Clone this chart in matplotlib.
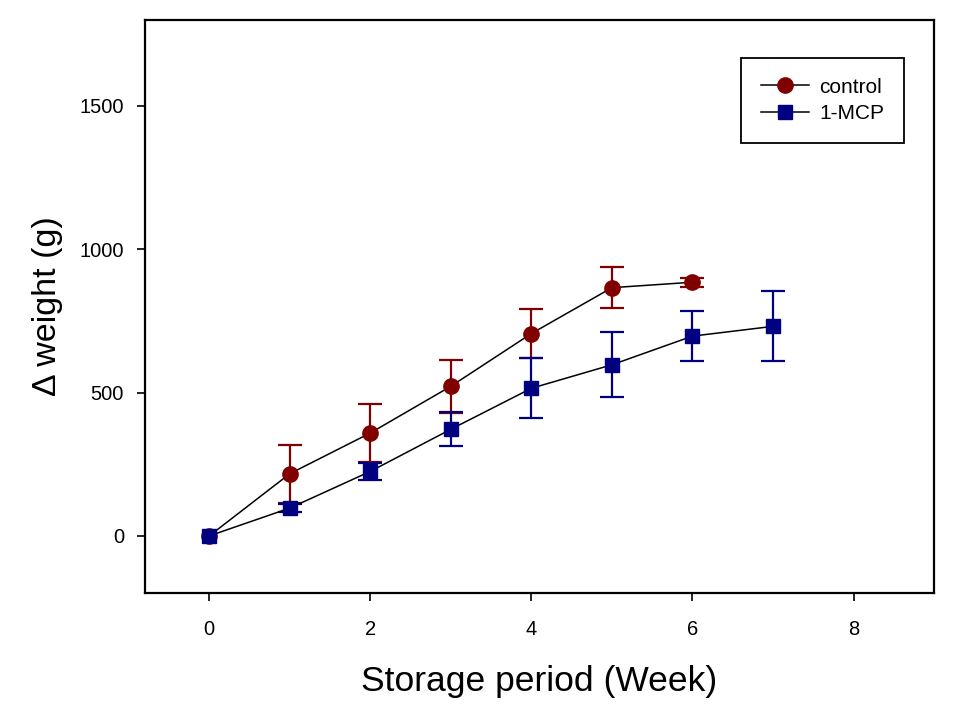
import numpy as np
import matplotlib.pyplot as plt

plt.rcParams["font.family"] = ["Liberation Sans", "DejaVu Sans"]

weeks_ctrl = [0, 1, 2, 3, 4, 5, 6]
ctrl = [0, 217, 359, 522, 706, 866, 885]
ctrl_err = [0, 101, 100, 92, 87, 72, 16]

weeks_mcp = [0, 1, 2, 3, 4, 5, 6, 7]
mcp = [0, 97, 225, 372, 515, 597, 697, 731]
mcp_err = [0, 14, 31, 59, 105, 113, 87, 122]

red = "#800000"
navy = "#000080"


def nonzero(x, y, e):
    # skip points with no error, they get no cap in the original
    keep = [i for i in range(len(e)) if e[i] > 0]
    return [x[i] for i in keep], [y[i] for i in keep], [e[i] for i in keep]


fig = plt.figure(figsize=(9.72, 7.13), dpi=100)
ax = fig.add_axes([0.149, 0.168, 0.812, 0.804])

xc, yc, ec = nonzero(weeks_ctrl, ctrl, ctrl_err)
ax.errorbar(xc, yc, yerr=ec, fmt="none", ecolor=red,
            elinewidth=1.6, capsize=8.5, capthick=1.6, zorder=2)
ax.plot(weeks_ctrl, ctrl, color="black", lw=1.1, marker="o", ms=11,
        mfc=red, mec=red, label="control", zorder=3)

xm, ym, em = nonzero(weeks_mcp, mcp, mcp_err)
ax.errorbar(xm, ym, yerr=em, fmt="none", ecolor=navy,
            elinewidth=1.6, capsize=8.5, capthick=1.6, zorder=4)
ax.plot(weeks_mcp, mcp, color="black", lw=1.1, marker="s", ms=10,
        mfc=navy, mec=navy, label="1-MCP", zorder=5)

ax.set_xlim(-0.8, 9)
ax.set_ylim(-200, 1800)
ax.set_xticks([0, 2, 4, 6, 8])
ax.set_yticks([0, 500, 1000, 1500])
ax.tick_params(direction="out", length=6, width=1.2, labelsize=14.5)
ax.tick_params(axis="x", pad=13)
ax.tick_params(axis="y", pad=9)
for s in ax.spines.values():
    s.set_linewidth(1.6)

ax.set_xlabel("Storage period (Week)", fontsize=25.5, labelpad=19)
ax.set_ylabel("Δ weight (g)", fontsize=24.5, labelpad=12)

leg = ax.legend(loc="upper right", bbox_to_anchor=(0.962, 0.934), borderaxespad=0,
                fontsize=15, fancybox=False, edgecolor="black", framealpha=1,
                handlelength=2.3, handletextpad=0.5, borderpad=0.95, labelspacing=0.35)
leg.get_frame().set_linewidth(1.3)

fig.savefig("out.png", dpi=100)
